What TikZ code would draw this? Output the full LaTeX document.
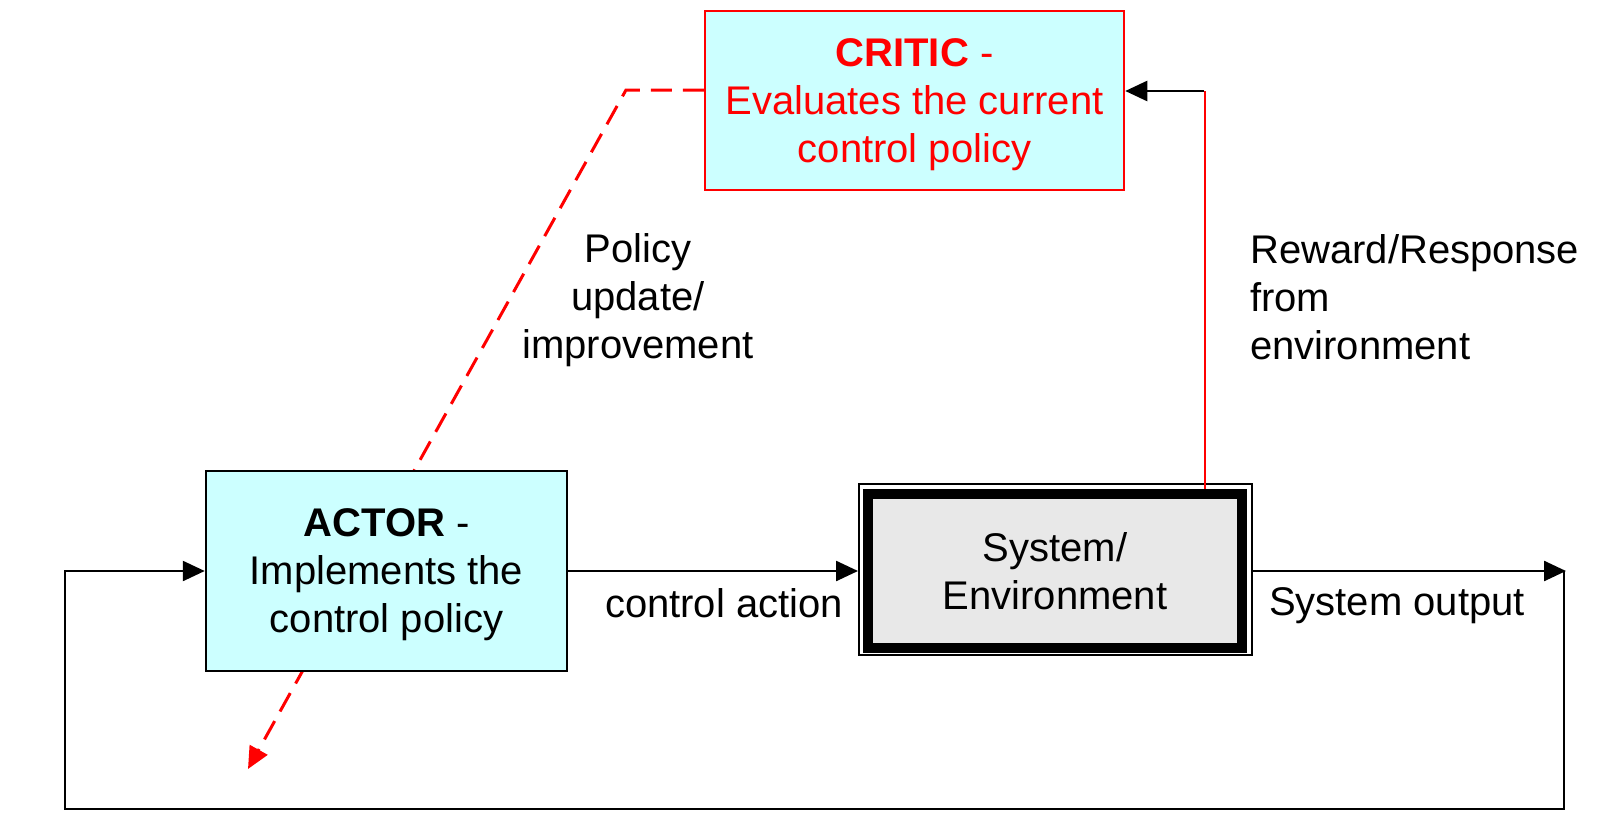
\documentclass[tikz,border=0pt]{standalone}
\usepackage{fontspec}
\setmainfont{Liberation Sans}
\usetikzlibrary{arrows.meta,backgrounds,calc}
\definecolor{boxcyan}{HTML}{CCFFFF}
\definecolor{sysgray}{HTML}{E8E8E8}
\definecolor{pured}{HTML}{FF0000}
\begin{document}
\begin{tikzpicture}[x=1pt,y=-1pt,
  txt/.style={font=\fontsize{40}{48}\selectfont, inner sep=0pt},
  blockbox/.style={txt, draw, line width=2.5pt, fill=boxcyan, align=center, text depth=0pt},
  conn/.style={line width=2.5pt, -{Triangle[length=22pt,width=20pt]}},
  dashconn/.style={pured, line width=3pt, dash pattern=on 21pt off 11pt, -{Triangle[length=22pt,width=20pt]}}
]
\useasboundingbox (0,0) rectangle (1610,835);

\node[blockbox, draw=pured, text=pured, minimum width=419pt, minimum height=179pt] (critic) at (914.5,100.5)
  {{\bfseries CRITIC} -\\Evaluates the current\\control policy};
\node[blockbox, minimum width=361pt, minimum height=200pt] (actor) at (386.5,571)
  {{\bfseries ACTOR} -\\Implements the\\control policy};
\node[draw, line width=2pt, fill=white, minimum width=393pt, minimum height=171pt, inner sep=0pt] (sysout) at (1055.5,569.5) {};
\node[txt, draw, line width=10pt, fill=sysgray, align=center, minimum width=374pt, minimum height=154pt] (sys) at (1055,571)
  {System/\\Environment};

\coordinate (dcorner) at (626,90);
\coordinate (dtip) at (248,769);
\coordinate (rcorner) at (1205,91);
\coordinate (outc) at (1566,571);
\coordinate (bl) at (65,809);

\begin{scope}[on background layer]
\draw[dashconn] (critic.west |- dcorner) -- (dcorner) -- (dtip);
\end{scope}

\draw[conn] (actor.east) -- (actor.east -| sysout.west);
\draw[pured, line width=2pt] (sys.north -| rcorner) -- (rcorner);
\draw[conn] ([xshift=-1pt]rcorner) -- (critic.east |- rcorner);
\draw[conn] (sysout.east |- outc) -- (outc);
\draw[conn] ([xshift=-2pt]outc) -- ([xshift=-2pt]outc |- bl) -- (bl) -- (bl |- actor.west) -- (actor.west);

\node[txt, align=center] (policylbl) at (638,300) {Policy\\update/\\improvement};
\node[txt, align=left, anchor=west] (rewardlbl) at (1250,297) {Reward/Response\\from\\environment};
\node[txt] (ctrllbl) at (724,603) {control action};
\node[txt] (outlbl) at (1397,606) {System output};
\end{tikzpicture}
\end{document}
